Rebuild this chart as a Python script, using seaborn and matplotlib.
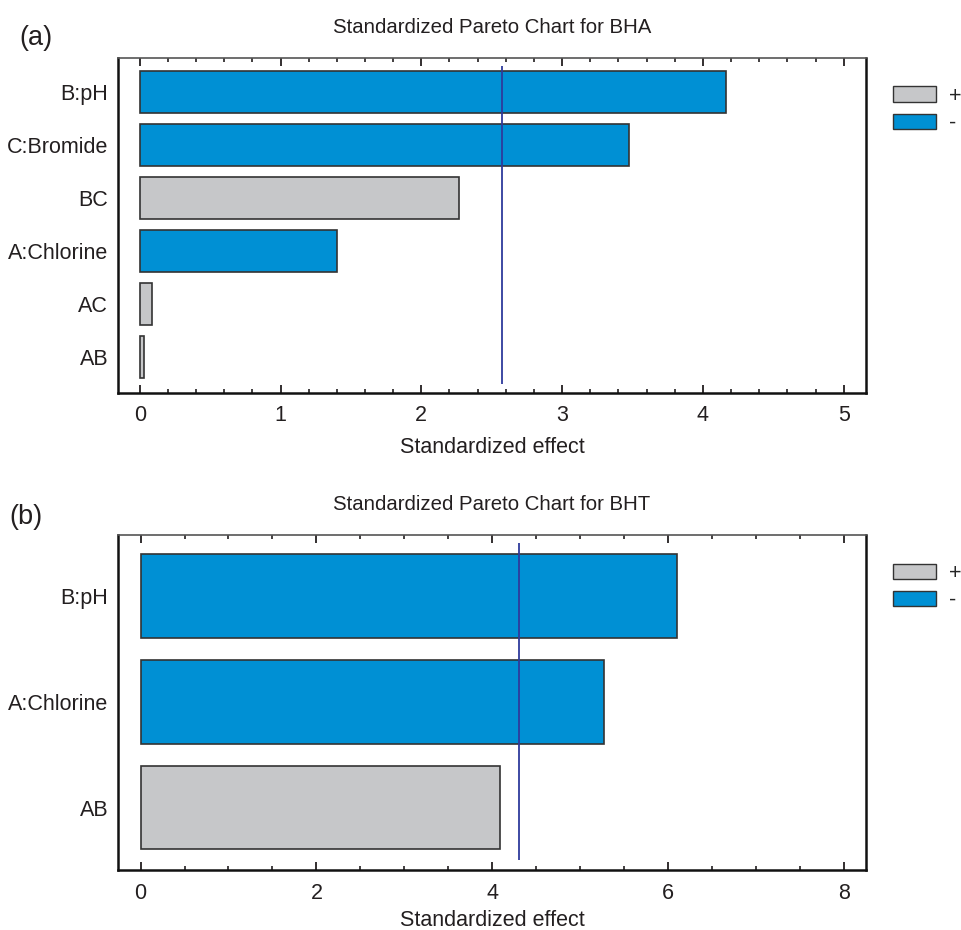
import matplotlib
matplotlib.use("Agg")
import matplotlib.pyplot as plt
import seaborn as sns
import pandas as pd
from matplotlib.patches import Patch
from matplotlib.ticker import MultipleLocator

# ---- data ----
bha_terms = ["B:pH", "C:Bromide", "BC", "A:Chlorine", "AC", "AB"]
bha_effects = [4.164, 3.473, 2.268, 1.40, 0.088, 0.03]
bha_signs = ["-", "-", "+", "-", "+", "+"]
bha_ref = 2.5758

bht_terms = ["B:pH", "A:Chlorine", "AB"]
bht_effects = [6.106, 5.27, 4.084]
bht_signs = ["-", "-", "+"]
bht_ref = 4.30

titles = ["Standardized Pareto Chart for BHA", "Standardized Pareto Chart for BHT"]
panel_labels = ["(a)", "(b)"]
xlabel = "Standardized effect"

# ---- style ----
sns.set_theme(style="white")
plt.rcParams["font.family"] = ["Liberation Sans", "DejaVu Sans"]
TXT = "#231f20"
BLUE = "#0090d4"
GRAY = "#c6c7c9"
EDGE = "#333333"
REF = "#2e3a9c"
palette = {"+": GRAY, "-": BLUE}
FS = 15.5

fig = plt.figure(figsize=(9.62, 9.30), dpi=100)
ax1 = fig.add_axes([0.1227, 0.5777, 0.7775, 0.3599])
ax2 = fig.add_axes([0.1227, 0.0645, 0.7775, 0.3602])

panels = [
    (ax1, bha_terms, bha_effects, bha_signs, bha_ref, (-0.154, 5.158), 1, 0.2, 8),
    (ax2, bht_terms, bht_effects, bht_signs, bht_ref, (-0.256, 8.25), 2, 0.5, 5),
]

for i, (ax, terms, effects, signs, ref, xlim, maj, mnr, lpad) in enumerate(panels):
    df = pd.DataFrame({"term": terms, "effect": effects, "sign": signs})
    sns.barplot(data=df, x="effect", y="term", hue="sign", palette=palette,
                dodge=False, width=0.79, orient="h", edgecolor=EDGE,
                linewidth=1.2, saturation=1, ax=ax, legend=False)
    n = len(terms)
    ax.vlines(ref, -0.5, n - 0.5, color=REF, linewidth=1.3, zorder=5)
    ax.set_xlim(*xlim)
    pad_top = 0.645 if n == 6 else 0.575
    pad_bot = 0.67 if n == 6 else 0.59
    ax.set_ylim(n - 1 + pad_bot, -pad_top)
    ax.xaxis.set_major_locator(MultipleLocator(maj))
    ax.xaxis.set_minor_locator(MultipleLocator(mnr))
    ax.tick_params(axis="x", which="major", direction="in", length=6, width=1.3,
                   top=True, bottom=True, labelsize=FS, pad=9, colors=TXT)
    ax.tick_params(axis="x", which="minor", direction="in", length=3, width=1.2,
                   top=True, bottom=True, colors=TXT)
    ax.tick_params(axis="y", which="both", left=False, right=False, length=0,
                   labelsize=FS, pad=7, colors=TXT)
    ax.set_ylabel("")
    ax.set_xlabel(xlabel, fontsize=FS, color=TXT, labelpad=lpad)
    for side in ["left", "bottom", "right"]:
        ax.spines[side].set_color("#111111")
        ax.spines[side].set_linewidth(1.8)
    ax.spines["top"].set_color("#555555")
    ax.spines["top"].set_linewidth(1.2)
    ax.set_title(titles[i], fontsize=14.7, color=TXT, pad=18)
    handles = [Patch(facecolor=GRAY, edgecolor=EDGE, linewidth=1.0, label="+"),
               Patch(facecolor=BLUE, edgecolor=EDGE, linewidth=1.0, label="-")]
    ax.legend(handles=handles, loc="upper left", bbox_to_anchor=(1.036, 0.917),
              frameon=False, fontsize=FS, handlelength=2.0, handleheight=0.74,
              handletextpad=0.6, labelspacing=0.28, borderaxespad=0.0,
              borderpad=0.0)

fig.text(0.037, 0.959, panel_labels[0], fontsize=19.5, color=TXT, ha="center", va="center")
fig.text(0.027, 0.444, panel_labels[1], fontsize=19.5, color=TXT, ha="center", va="center")

fig.savefig("out.png", dpi=100, facecolor="white")
